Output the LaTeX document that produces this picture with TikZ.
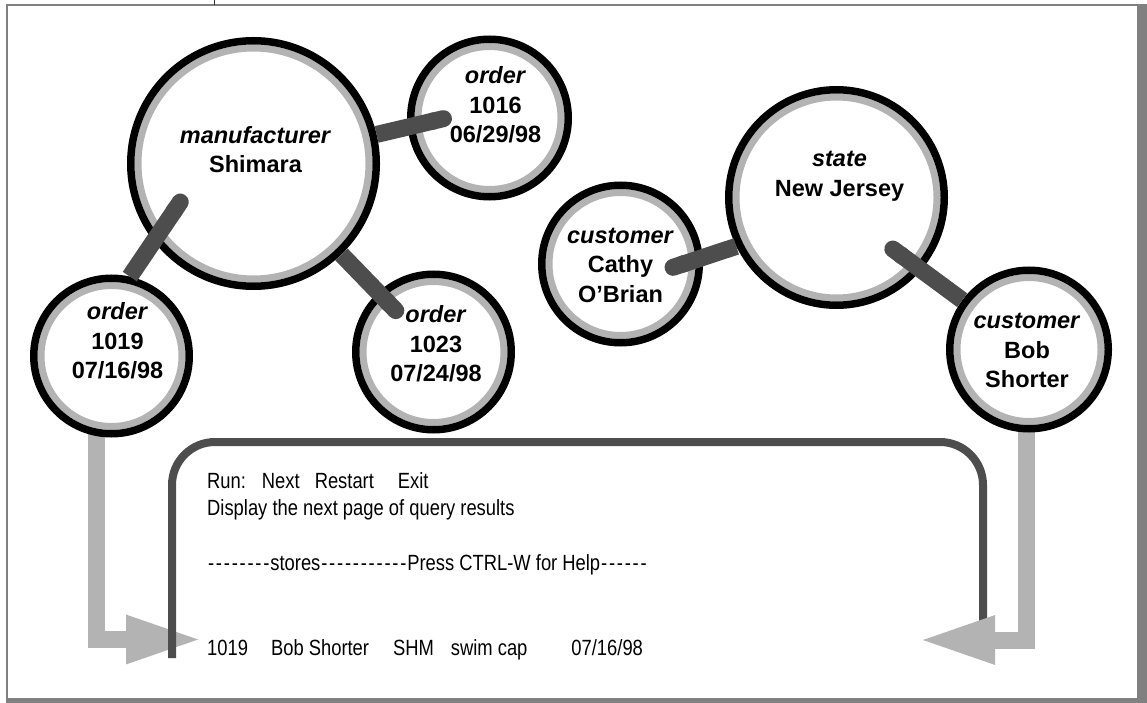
\documentclass[tikz,border=0pt]{standalone}
\usepackage{fontspec}
\setmainfont{Liberation Sans}
\newfontfamily\narrowfont{Liberation Sans}[FakeStretch=0.835]
\usetikzlibrary{arrows.meta}
\pgfdeclarelayer{background}
\pgfsetlayers{background,main}

\definecolor{ringgray}{RGB}{179,179,179}
\definecolor{linkgray}{RGB}{77,77,77}
\definecolor{framegray}{RGB}{128,128,128}

\newcommand{\dashrun}[1]{\foreach \k in {1,...,#1}{\makebox[7.9pt]{-}}}

\tikzset{
  entity/.style={circle, draw=black, line width=7.5pt, fill=white,
    minimum size=2*#1pt, inner sep=0pt,
    path picture={\draw[ringgray, line width=7pt]
      (path picture bounding box.center) circle[radius=#1pt-7.25pt];}},
  every label/.style={font=\bfseries\fontsize{23.5}{29.5}\selectfont,
    align=center, inner sep=0pt},
  link/.style={linkgray, line width=17pt, {Round Cap[]}-},
  feed/.style={ringgray, line width=17pt, line join=miter,
    -{Triangle[length=77pt,width=44pt]}},
  screen/.style={linkgray, line width=8pt, rounded corners=43pt},
  term/.style={anchor=base west, inner sep=0pt,
    font=\narrowfont\fontsize{22}{27}\selectfont},
}

\begin{document}
\begin{tikzpicture}[x=1pt, y=-1pt]

  \useasboundingbox (0,0) rectangle (1147,703);
  \draw[black!80, line width=1.2pt] (214.4,0) -- (214.4,5);

  % circles
  \node[entity=122.75, label={[xshift=2pt, yshift=14pt]center:\textit{manufacturer}\\Shimara}]
    (mfr) at (253.5,163.5) {};
  \node[entity=78.75, label={[xshift=6pt, yshift=13pt]center:\textit{order}\\1016\\06/29/98}]
    (o1016) at (489.5,118) {};
  \node[entity=77.75, label={[xshift=6pt, yshift=15pt]center:\textit{order}\\1019\\07/16/98}]
    (o1019) at (111.5,356) {};
  \node[entity=77.75, label={[xshift=2.5pt, yshift=8pt]center:\textit{order}\\1023\\07/24/98}]
    (o1023) at (433.5,352) {};
  \node[entity=78.75, label={[yshift=-1pt]center:\textit{customer}\\Cathy\\O’Brian}]
    (cathy) at (620.5,264) {};
  \node[entity=107.75, label={[xshift=3pt, yshift=21pt]center:\textit{state}\\New Jersey}]
    (state) at (836.5,197.5) {};
  \node[entity=79.25, label={[xshift=-2pt, yshift=-1pt]center:\textit{customer}\\Bob\\Shorter}]
    (bob) at (1029,349.5) {};

  % links
  \coordinate (k1016) at (451.7,116.7);
  \coordinate (k1023) at (401.7,316.7);
  \coordinate (k1019) at (185,195);
  \coordinate (kcathy) at (665,270);
  \coordinate (kbob) at (886,244);
  \draw[link] (k1016) -- (mfr);
  \draw[link] (k1023) -- (mfr);
  \draw[link] (k1019) -- (o1019.77);
  \draw[link] (kcathy) -- (state.206);
  \draw[link] (kbob) -- (bob);

  % query screen
  \coordinate (tipL) at (203,639.5);
  \coordinate (tipR) at (918,640);
  \begin{pgfonlayer}{background}
    \fill[framegray] (6,4.3) rectangle (1147,703);
    \fill[white] (7.7,6) rectangle (1136.7,698.3);
    \draw[feed] ([xshift=-15pt]o1019.center) |- (tipL);
    \draw[screen] (172,658) -- (172,442) -- (983,442) -- (983,658);
    \draw[feed] ([xshift=-3pt]bob.center) |- (tipR);
  \end{pgfonlayer}

  \node[term] (run) at (207,488) {Run:\hspace{16pt}Next\hspace{15pt}Restart\hspace{24pt}Exit};
  \node[term] (hint) at (207,515) {Display the next page of query results};
  \node[term] (banner) at (207,570) {\dashrun{8}stores\dashrun{11}Press CTRL-W for Help\dashrun{6}};
  \node[term] (row) at (207,655) {1019\hspace{23pt}Bob Shorter\hspace{24pt}SHM\hspace{17pt}swim cap\hspace{44pt}07/16/98};

\end{tikzpicture}
\end{document}
